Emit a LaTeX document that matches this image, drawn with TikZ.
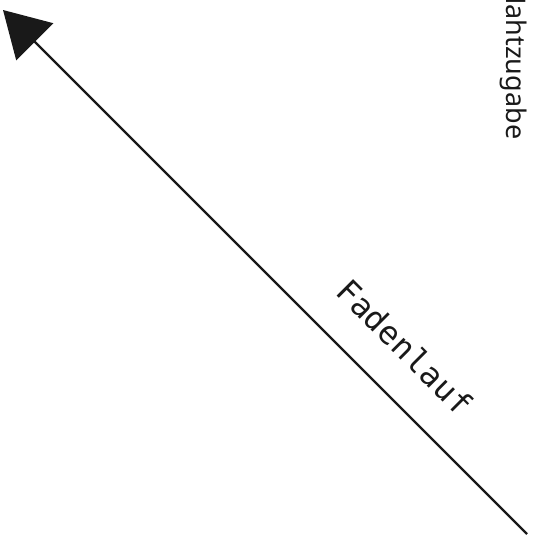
\documentclass[tikz,border=0pt]{standalone}
\usepackage{fontspec}
\setmainfont{Noto Sans}
\newfontfamily\fadenfont[LetterSpace=1]{DejaVu Sans Mono}
\usetikzlibrary{arrows.meta}
\tikzset{
  lauf/.style={line width=2.3pt,draw=black!90,-{Triangle[length=45pt,width=52pt]}},
  fadenlabel/.style={inner sep=0pt,text=black!90,rotate=-45,font=\fadenfont\fontsize{32}{32}\selectfont},
  nahtlabel/.style={inner sep=0pt,text=black!90,rotate=-90,anchor=base west,font=\fontsize{27}{27}\selectfont}
}

\begin{document}
\begin{tikzpicture}[x=1pt,y=1pt,line join=round]
\useasboundingbox (0,0) rectangle (534,541);
% --- grain line
\coordinate (tail) at (527,7);
\coordinate (tip) at (3,531);
\draw[lauf] (tail) -- (tip);
\node[fadenlabel] (faden) at (405,194) {Fadenlauf};
% --- seam allowance, cut at the top edge
\node[nahtlabel] (naht) at (506,557) {Nahtzugabe};
\end{tikzpicture}
\end{document}
